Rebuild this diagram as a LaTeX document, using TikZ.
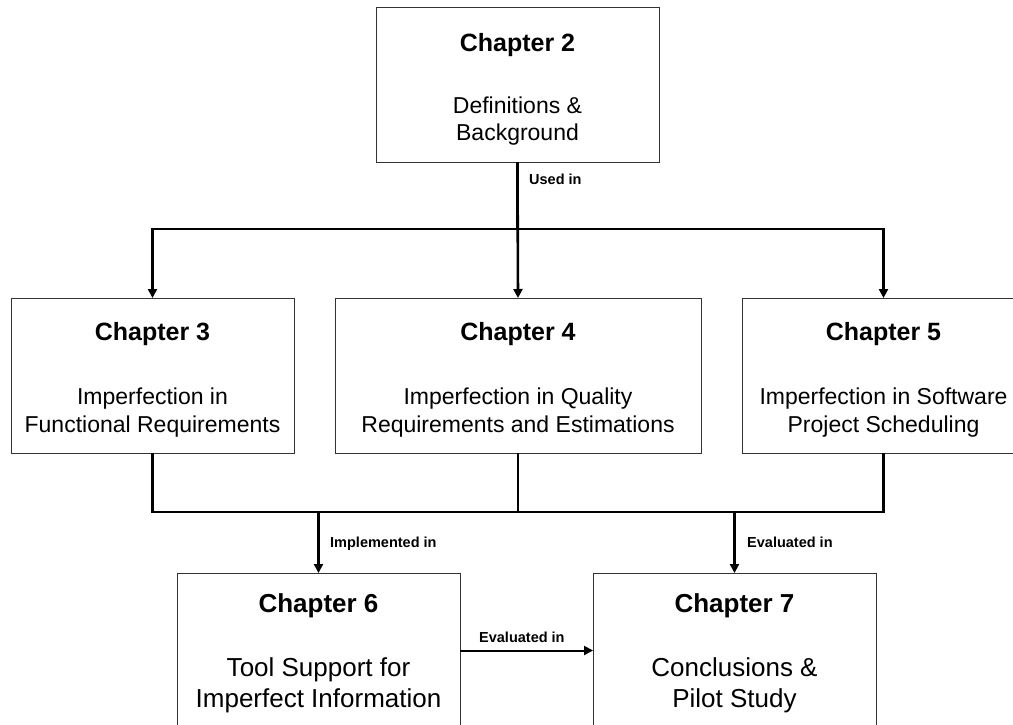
\documentclass[tikz,border=0pt]{standalone}
\usepackage{fontspec}
\setmainfont{Liberation Sans}
\usetikzlibrary{arrows.meta}
\begin{document}
\begin{tikzpicture}[x=1pt,y=-1pt,
  chapbox/.style={draw=black!80, line width=1pt, minimum width=283pt,
    minimum height=155pt, anchor=north west, inner sep=0pt, outer sep=0pt},
  widebox/.style={chapbox, minimum width=366pt},
  title/.style={font=\fontsize{25}{30}\selectfont\bfseries, anchor=base, inner sep=0pt},
  body/.style={font=\fontsize{23}{28}\selectfont, anchor=base, inner sep=0pt},
  bigtitle/.style={font=\fontsize{26}{31}\selectfont\bfseries, anchor=base, inner sep=0pt},
  bigbody/.style={font=\fontsize{26}{31}\selectfont, anchor=base, inner sep=0pt},
  link/.style={line width=2.6pt},
  arr/.style={link, -{Triangle[length=9pt,width=9pt]}},
  thinarr/.style={line width=2pt, -{Triangle[length=9pt,width=9pt]}},
  lbl/.style={font=\fontsize{14.5}{17}\selectfont\bfseries, anchor=base west, inner sep=0pt}]

\useasboundingbox (0,0) rectangle (1013,724);
\clip (0,0) rectangle (1013,724);

% chapter boxes
\node[chapbox] (ch2) at (376,7) {};
\node[chapbox] (ch3) at (11,298) {};
\node[widebox] (ch4) at (335,298) {};
\node[chapbox] (ch5) at (742,298) {};
\node[chapbox] (ch6) at (177,573) {};
\node[chapbox] (ch7) at (593,573) {};

% box texts
\node[title] (t2) at (517.5,51) {Chapter 2};
\node[body] (b2a) at (517.5,113) {Definitions \&};
\node[body] (b2b) at (517.5,140) {Background};

\node[title] (t3) at (152.5,340) {Chapter 3};
\node[body] (b3a) at (152.5,404) {Imperfection in};
\node[body] (b3b) at (152.5,432) {Functional Requirements};

\node[title] (t4) at (518,340) {Chapter 4};
\node[body] (b4a) at (518,404) {Imperfection in Quality};
\node[body] (b4b) at (518,432) {Requirements and Estimations};

\node[title] (t5) at (883.5,340) {Chapter 5};
\node[body] (b5a) at (883.5,404) {Imperfection in Software};
\node[body] (b5b) at (883.5,432) {Project Scheduling};

\node[bigtitle] (t6) at (318.5,612) {Chapter 6};
\node[bigbody] (b6a) at (318.5,676) {Tool Support for};
\node[bigbody] (b6b) at (318.5,707) {Imperfect Information};

\node[bigtitle] (t7) at (734.5,612) {Chapter 7};
\node[bigbody] (b7a) at (734.5,676) {Conclusions \&};
\node[bigbody] (b7b) at (734.5,707) {Pilot Study};

% bus levels
\coordinate (busA) at (0,229);
\coordinate (busB) at (0,512);

% chapter 2 fans out to chapters 3-5
\draw[arr] (ch2.south) -- (ch2.south |- busA) -| (ch3.north);
\draw[arr] (ch2.south) -- (ch2.south |- busA) -| (ch5.north);
\draw[arr] (ch2.south) -- (ch4.north);
\node[lbl] (used) at (529,184) {Used in};

% chapters 3-5 collect into the lower bus
\draw[link] (ch3.south) |- (ch5.south |- busB) -- (ch5.south);
\draw[link] (ch4.south) -- (ch4.south |- busB);
\draw[arr] (ch6.north |- busB) -- (ch6.north);
\draw[arr] (ch7.north |- busB) -- (ch7.north);
\node[lbl] (impl) at (330,547) {Implemented in};
\node[lbl] (eval1) at (747,547) {Evaluated in};

% chapter 6 to chapter 7
\draw[thinarr] (ch6.east) -- (ch7.west);
\node[lbl] (eval2) at (479,642) {Evaluated in};

\end{tikzpicture}
\end{document}
